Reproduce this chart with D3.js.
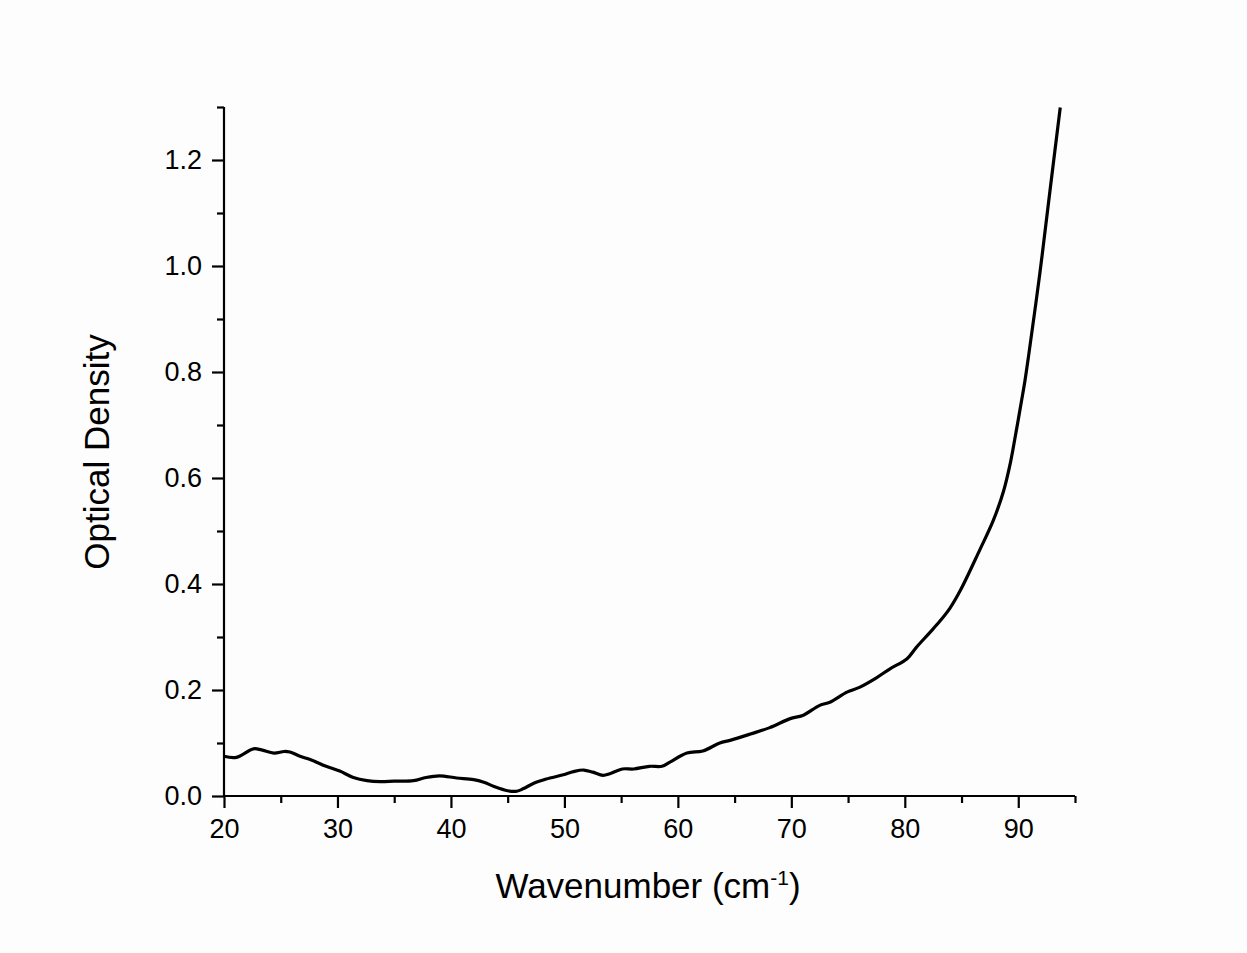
<!DOCTYPE html>
<html>
<head>
<meta charset="utf-8">
<script src="https://cdn.jsdelivr.net/npm/d3@7"></script>
<style>
  body { margin: 0; background: #fdfdfd; }
  text { font-family: "Liberation Sans", Arial, sans-serif; fill: #000; }
</style>
</head>
<body>
<script>
// Werte
var wavenumber = [20.0, 21.1, 22.6, 23.3, 24.4, 25.3, 25.8, 26.7, 27.7, 29.0, 30.2, 31.4,
  32.6, 33.8, 35.0, 36.7, 37.8, 39.0, 40.5, 42.0, 42.9, 43.8, 45.0, 45.8, 46.4, 47.3,
  48.4, 49.9, 50.8, 51.7, 52.5, 53.4, 54.0, 55.1, 56.1, 57.5, 58.6, 59.3, 60.8, 62.2,
  63.7, 64.6, 66.4, 68.1, 69.9, 71.0, 72.5, 73.4, 74.9, 76.0, 77.5, 78.7, 80.2, 81.0,
  82.1, 83.1, 84.0, 84.9, 86.6, 87.8, 88.7, 89.3, 89.7, 90.3, 90.6, 90.9, 91.9, 92.8, 93.7];
var density = [0.075, 0.073, 0.089, 0.087, 0.081, 0.084, 0.083, 0.075, 0.068, 0.056, 0.047, 0.035,
  0.029, 0.027, 0.028, 0.029, 0.035, 0.038, 0.034, 0.031, 0.026, 0.018, 0.010, 0.009, 0.014, 0.024,
  0.032, 0.040, 0.046, 0.049, 0.045, 0.039, 0.042, 0.051, 0.051, 0.056, 0.056, 0.064, 0.081, 0.085,
  0.100, 0.105, 0.117, 0.129, 0.146, 0.152, 0.171, 0.177, 0.196, 0.205, 0.223, 0.240, 0.259, 0.280,
  0.306, 0.330, 0.355, 0.388, 0.464, 0.520, 0.575, 0.628, 0.674, 0.747, 0.785, 0.829, 0.986, 1.143, 1.299];
var xTicks = [20, 30, 40, 50, 60, 70, 80, 90];
var xMinor = [25, 35, 45, 55, 65, 75, 85, 95];
var yTicks = [0, 0.2, 0.4, 0.6, 0.8, 1.0, 1.2];
var yMinor = [0.1, 0.3, 0.5, 0.7, 0.9, 1.1, 1.3];

var data = wavenumber.map(function(w, i) { return [w, density[i]]; });

// Dimensionen
var W = 1247, H = 953;
var margin = {top: 107, right: 172, bottom: 157, left: 224};
var width = W - margin.left - margin.right;
var height = H - margin.top - margin.bottom;

var svg = d3.select("body").append("svg")
  .attr("width", W)
  .attr("height", H);

var g = svg.append("g")
  .attr("transform", "translate(" + margin.left + "," + margin.top + ")");

var x = d3.scaleLinear().domain([20, 95]).range([0, width]);
var y = d3.scaleLinear().domain([0, 1.3]).range([height, 0]);

// Kurve
var line = d3.line()
  .x(function(d) { return x(d[0]); })
  .y(function(d) { return y(d[1]); })
  .curve(d3.curveCatmullRom);

g.append("path")
  .datum(data)
  .attr("fill", "none")
  .attr("stroke", "#000")
  .attr("stroke-width", 3.2)
  .attr("stroke-linejoin", "round")
  .attr("d", line);

// x-Achse
var xAxis = g.append("g")
  .attr("transform", "translate(0," + height + ")")
  .call(d3.axisBottom(x).tickValues(xTicks).tickSize(12).tickPadding(11).tickFormat(d3.format("d")));
g.append("g")
  .attr("transform", "translate(0," + height + ")")
  .call(d3.axisBottom(x).tickValues(xMinor).tickSize(7).tickFormat(""))
  .select(".domain").remove();

// y-Achse
var yAxis = g.append("g")
  .call(d3.axisLeft(y).tickValues(yTicks).tickSize(12).tickPadding(10).tickFormat(d3.format(".1f")));
g.append("g")
  .call(d3.axisLeft(y).tickValues(yMinor).tickSize(7).tickFormat(""))
  .select(".domain").remove();

g.selectAll(".domain").attr("stroke-width", 2.2).attr("stroke", "#000");
g.selectAll(".tick line").attr("stroke-width", 2.2).attr("stroke", "#000");
xAxis.selectAll(".domain").attr("d", "M0,0H" + width);
yAxis.selectAll(".domain").attr("d", "M0,0V" + height);
g.selectAll(".tick text")
  .attr("font-size", "27px")
  .attr("font-family", "'Liberation Sans', Arial, sans-serif")
  .attr("fill", "#000");

// Achsentitel
var xt = svg.append("text")
  .attr("x", 648)
  .attr("y", 898)
  .attr("text-anchor", "middle")
  .attr("font-size", "35px");
xt.append("tspan").text("Wavenumber (cm");
xt.append("tspan").attr("dy", -13).attr("font-size", "21px").text("-1");
xt.append("tspan").attr("dy", 13).text(")");

svg.append("text")
  .attr("transform", "translate(109,452) rotate(-90)")
  .attr("text-anchor", "middle")
  .attr("font-size", "35px")
  .text("Optical Density");
</script>
</body>
</html>
